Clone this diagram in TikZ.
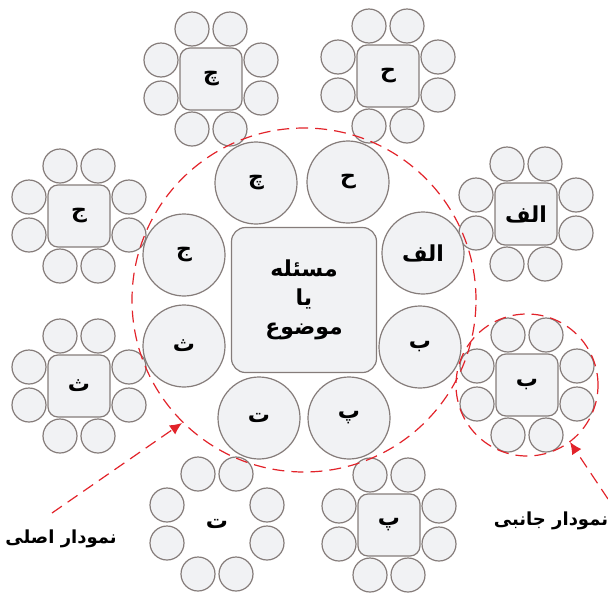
\documentclass[tikz,border=0pt]{standalone}
\usepackage{fontspec}
\newfontfamily\arabicfont[Script=Arabic]{DejaVu Sans}
\TeXXeTstate=1
\usetikzlibrary{positioning,arrows.meta,arrows}
\definecolor{ringgray}{HTML}{857C7A}
\definecolor{fillgray}{HTML}{F1F2F4}
\definecolor{dashred}{HTML}{E2232A}
\newcommand{\fatext}[1]{{\arabicfont\bfseries\beginR #1\endR}}
\tikzset{
ring/.style={
  circle,
  draw=ringgray,
  line width=1.2pt,
  fill=fillgray,
  inner sep=0pt
  },
bigring/.style={
  ring,
  minimum size=82pt,
  font=\fontsize{22}{22}\selectfont
  },
smallring/.style={
  ring,
  minimum size=34pt
  },
topicbox/.style={
  rectangle,
  rounded corners=14pt,
  draw=ringgray,
  line width=1.2pt,
  fill=fillgray,
  minimum size=145pt,
  align=center,
  font=\fontsize{22}{29}\selectfont
  },
subbox/.style={
  rectangle,
  rounded corners=10pt,
  draw=ringgray,
  line width=1.2pt,
  fill=fillgray,
  minimum size=62pt,
  font=\fontsize{22}{22}\selectfont
  },
subplain/.style={
  minimum size=62pt,
  font=\fontsize{22}{22}\selectfont
  },
reddash/.style={
  draw=dashred,
  line width=1.2pt,
  dash pattern=on 12pt off 7pt
  }
}
\begin{document}
\begin{tikzpicture}[x=1pt,y=-1pt,>=latex]
    \useasboundingbox (0,0) rectangle (608,595);
    % side diagrams
    \foreach \nm/\cx/\cy/\lab/\sty in {
        ches/211/79/چ/subbox, hes/388/76/ح/subbox,
        jims/79/216/ج/subbox, alefs/526/214/الف/subbox,
        ses/79/386/ث/subbox, bes/527/385/ب/subbox,
        pes/389/525/پ/subbox, tes/217/524/ت/subplain}
    {
        \node[\sty] (\nm) at (\cx,\cy) {\fatext{\lab}};
        \foreach \dx/\dy [count=\i] in {-19/-50,19/-50,-50/-19,-50/19,50/-19,50/19,-19/50,19/50}
            \node[smallring] (\nm-\i) at (\cx+\dx,\cy+\dy) {};
    }
    % main diagram
    \node[topicbox] (topic) at (304,300) {\fatext{مسئله}\\\fatext{یا}\\\fatext{موضوع}};
    \node[bigring] (che) at (256,183) {\fatext{چ}};
    \node[bigring] (he) at (348,182) {\fatext{ح}};
    \node[bigring] (jim) at (184,255) {\fatext{ج}};
    \node[bigring] (alef) at (423,253) {\fatext{الف}};
    \node[bigring] (se) at (184,346) {\fatext{ث}};
    \node[bigring] (be) at (420,347) {\fatext{ب}};
    \node[bigring] (te) at (259,418) {\fatext{ت}};
    \node[bigring] (pe) at (349,418) {\fatext{پ}};
    % outlines and labels
    \draw[reddash] (topic.center) circle[radius=172pt];
    \draw[reddash] (bes.center) circle[radius=71pt];
    \node[font=\fontsize{18}{18}\selectfont] (mainlabel) at (61,539) {\fatext{نمودار اصلی}};
    \node[font=\fontsize{18}{18}\selectfont] (sidelabel) at (551,521) {\fatext{نمودار جانبی}};
    \coordinate (mainfrom) at (52,513);
    \coordinate (mainto) at (182,423);
    \coordinate (sidefrom) at (608,499);
    \coordinate (sideto) at (570,442);
    \draw[reddash,-{Latex[length=12pt,width=11pt]}] (mainfrom) -- (mainto);
    \draw[reddash,-{Latex[length=12pt,width=11pt]}] (sidefrom) -- (sideto);
\end{tikzpicture}
\end{document}
